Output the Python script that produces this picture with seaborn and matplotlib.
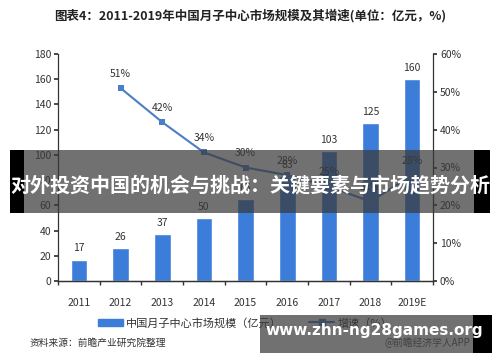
import matplotlib
matplotlib.use("Agg")
import matplotlib.pyplot as plt
import seaborn as sns
import pandas as pd
from matplotlib.patches import Rectangle
from matplotlib.lines import Line2D
from matplotlib.ticker import FuncFormatter, FixedLocator

categories = ["2011", "2012", "2013", "2014", "2015", "2016", "2017", "2018", "2019E"]
market_size = [17, 26, 37, 50, 65, 83, 103, 125, 160]
growth_years = ["2012", "2013", "2014", "2015", "2016", "2017", "2018", "2019E"]
growth_pct = [51, 42, 34, 30, 28, 25, 21, 28]
left_ticks = [0, 20, 40, 60, 80, 100, 120, 140, 160, 180]
right_ticks = [0, 10, 20, 30, 40, 50, 60]

title = "图表4：2011-2019年中国月子中心市场规模及其增速(单位：亿元，%)"
bar_label = "中国月子中心市场规模（亿元）"
line_label = "增速（%）"
source = "资料来源：前瞻产业研究院整理"
banner = "对外投资中国的机会与挑战：关键要素与市场趋势分析"
wm = "www.zhn-ng28games.org"

sns.set_theme(style="white")
plt.rcParams["font.family"] = ["Noto Sans CJK SC", "DejaVu Sans"]

W, H = 500, 362
fig = plt.figure(figsize=(5, 3.62), dpi=100)
fig.patch.set_facecolor("white")
ax = fig.add_axes([58 / W, 1 - 281 / H, (433 - 58) / W, (281 - 54) / H])

bar_color = "#3C7DD9"
line_color = "#4A7EC6"

df = pd.DataFrame({"year": categories, "size": market_size})
sns.barplot(data=df, x="year", y="size", ax=ax, color=bar_color, width=0.4,
            saturation=1, order=categories)
ax.set_xlim(-0.5, len(categories) - 0.5)
ax.set_ylim(0, 180)
ax.yaxis.set_major_locator(FixedLocator(left_ticks))
ax.set_xlabel("")
ax.set_ylabel("")
for i, v in enumerate(market_size):
    ax.text(i, v + 5, str(v), ha="center", va="bottom", fontsize=7.5, color="#333333")

ax2 = ax.twinx()
gdf = pd.DataFrame({"x": [categories.index(y) for y in growth_years],
                    "g": [g / 100 for g in growth_pct]})
sns.lineplot(data=gdf, x="x", y="g", ax=ax2, color=line_color, marker="s",
             markersize=5, markeredgewidth=0, linewidth=1.5)
ax2.set_ylim(0, 0.6)
ax2.yaxis.set_major_locator(FixedLocator([t / 100 for t in right_ticks]))
ax2.yaxis.set_major_formatter(FuncFormatter(lambda v, p: f"{v*100:.0f}%"))
ax2.set_xlabel("")
ax2.set_ylabel("")
for xi, g in zip(gdf["x"], growth_pct):
    ax2.text(xi, g / 100 + 0.025, f"{g}%", ha="center", va="bottom", fontsize=7.5, color="#333333")
ax2.set_xlim(-0.5, len(categories) - 0.5)

for a in (ax, ax2):
    a.spines["top"].set_visible(False)
    for s in ["left", "right", "bottom"]:
        a.spines[s].set_color("#333333")
        a.spines[s].set_linewidth(0.9)
ax.spines["right"].set_visible(False)
ax2.spines["left"].set_visible(False)

ax.tick_params(axis="y", left=True, length=3, labelsize=7.5, colors="#333333", pad=2)
ax.tick_params(axis="x", bottom=False, labelsize=7.5, colors="#333333", pad=6)
ax2.tick_params(axis="y", right=True, length=3, labelsize=7.5, colors="#333333", pad=2)
ax.set_xticks([i - 0.5 for i in range(len(categories) + 1)], minor=True)
ax.tick_params(axis="x", which="minor", bottom=True, length=3, color="#333333")

fig.text(0.5, 1 - 16 / H, title, ha="center", va="center", fontsize=9,
         fontweight="bold", color="#222222")

handles = [Rectangle((0, 0), 1, 1, color=bar_color),
           Line2D([0], [0], color=line_color, marker="s", markersize=4, linewidth=1.5)]
fig.legend(handles, [bar_label, line_label], loc="center", bbox_to_anchor=(0.49, 1 - 323 / H),
           ncol=2, frameon=False, fontsize=8, handlelength=2.2, columnspacing=2.5,
           handletextpad=0.3, labelcolor="#333333")

fig.text(30 / W, 1 - 343 / H, source, ha="left", va="center", fontsize=7, color="#333333")
fig.text(470 / W, 1 - 343 / H, "@前瞻经济学人APP", ha="right", va="center", fontsize=7, color="#555555")

# overlay banner
fig.patches.append(Rectangle((10 / W, 1 - 213 / H), (474 - 10) / W, 63 / H,
                             transform=fig.transFigure, facecolor="#3a3a3a", alpha=0.72,
                             edgecolor="none", zorder=10))
fig.patches.append(Rectangle((10 / W, 1 - 213 / H), 14 / W, 63 / H, transform=fig.transFigure,
                             facecolor="black", edgecolor="none", zorder=11))
fig.patches.append(Rectangle((474 / W, 1 - 213 / H), 16 / W, 63 / H, transform=fig.transFigure,
                             facecolor="black", edgecolor="none", zorder=11))
fig.text(0.5, 1 - 185 / H, banner, ha="center", va="center", fontsize=14.4,
         fontweight="bold", color="white", zorder=12)

# watermark box
fig.patches.append(Rectangle((260 / W, 1 - 353 / H), (473 - 260) / W, 38 / H,
                             transform=fig.transFigure, facecolor="#3a3a3a", alpha=0.72,
                             edgecolor="none", zorder=10))
fig.patches.append(Rectangle((473 / W, 1 - 353 / H), 19 / W, 38 / H, transform=fig.transFigure,
                             facecolor="black", edgecolor="none", zorder=11))
fig.text(374 / W, 1 - 330 / H, wm, ha="center", va="center", fontsize=11,
         fontweight="bold", color="white", family="DejaVu Sans", zorder=12)

fig.savefig("out.png", dpi=100, facecolor="white")
